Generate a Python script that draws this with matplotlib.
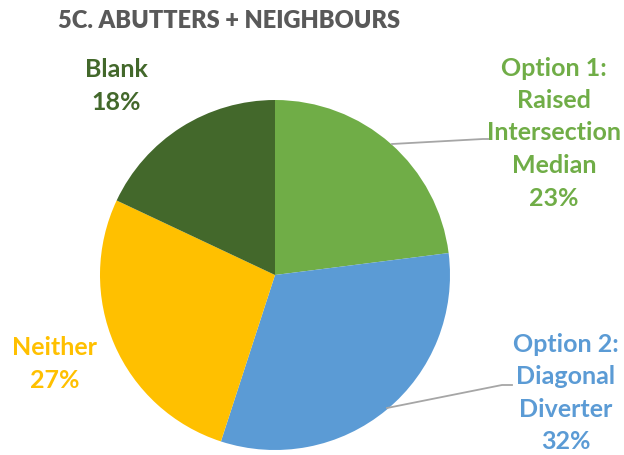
import matplotlib
matplotlib.use("Agg")
import matplotlib.pyplot as plt

# data
labels = ["Option 1:\nRaised\nIntersection\nMedian", "Option 2:\nDiagonal\nDiverter", "Neither", "Blank"]
shares = [23, 32, 27, 18]
colors = ["#70AD47", "#5B9BD5", "#FFC000", "#43682B"]
title = "5C. ABUTTERS + NEIGHBOURS"

W, H = 624, 455

plt.rcParams['font.family'] = ['Lato', 'DejaVu Sans']

fig = plt.figure(figsize=(W / 100, H / 100), dpi=100)
ax = fig.add_axes([0, 0, 1, 1])

# pie centre / radius in pixels (y measured from the top)
cx, cy, r = 275, 275, 175
ax.pie(shares, colors=colors, startangle=90, counterclock=False,
       center=(cx, H - cy), radius=r, wedgeprops=dict(linewidth=0))

ax.set_xlim(0, W)
ax.set_ylim(0, H)
ax.set_aspect('equal')
ax.axis('off')

def py(y):
    return H - y

# leader lines
ax.plot([392, 483, 490], [py(144), py(139), py(139)], color="#A6A6A6", lw=1.3)
ax.plot([387, 502, 512], [py(408), py(385), py(385)], color="#A6A6A6", lw=1.3)

fs = 18
ls = 1.5
ax.text(554, py(133), labels[0] + "\n%d%%" % shares[0], color=colors[0], fontsize=fs,
        fontweight='bold', ha='center', va='center', linespacing=ls)
ax.text(566, py(393), labels[1] + "\n%d%%" % shares[1], color=colors[1], fontsize=fs,
        fontweight='bold', ha='center', va='center', linespacing=ls)
ax.text(55, py(364), labels[2] + "\n%d%%" % shares[2], color=colors[2], fontsize=fs,
        fontweight='bold', ha='center', va='center', linespacing=ls)
ax.text(116, py(86), labels[3] + "\n%d%%" % shares[3], color=colors[3], fontsize=fs,
        fontweight='bold', ha='center', va='center', linespacing=ls)

ax.text(229, py(21), title, color="#595959", fontsize=17, fontweight='heavy',
        ha='center', va='center')

fig.savefig("out.png", dpi=100)
